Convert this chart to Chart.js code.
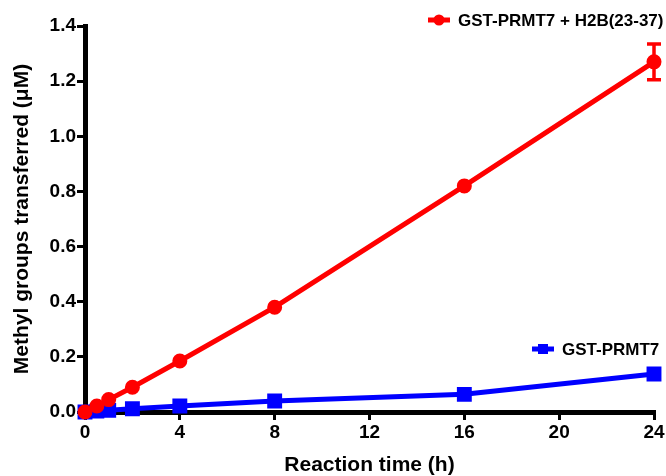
<!DOCTYPE html>
<html>
<head>
<meta charset="utf-8">
<script src="https://cdn.jsdelivr.net/npm/chart.js@4"></script>
<style>
html,body{margin:0;padding:0;background:#fff;}
#wrap{width:666px;height:476px;}
</style>
</head>
<body>
<div id="wrap"><canvas id="c" width="666" height="476"></canvas></div>
<script>
const times = [0, 0.5, 1, 2, 4, 8, 16, 24];
const redValues = [0, 0.022, 0.045, 0.09, 0.185, 0.38, 0.82, 1.27];
const redErrors = [0, 0, 0, 0, 0, 0, 0, 0.065];
const blueValues = [0, 0.003, 0.006, 0.012, 0.022, 0.04, 0.064, 0.138];
const xTicks = [0, 4, 8, 12, 16, 20, 24];
const yTicks = [0, 0.2, 0.4, 0.6, 0.8, 1.0, 1.2, 1.4];
const redLabel = 'GST-PRMT7 + H2B(23-37)';
const blueLabel = 'GST-PRMT7';
const xTitle = 'Reaction time (h)';
const yTitle = 'Methyl groups transferred (\u03bcM)';

const FONT = "'Liberation Sans', Arial, sans-serif";
const RED = '#ff0000';
const BLUE = '#0000ff';

const errorBars = {
  id: 'errorBars',
  afterDatasetsDraw(chart) {
    const {ctx, scales: {x, y}} = chart;
    ctx.save();
    ctx.strokeStyle = RED;
    ctx.lineWidth = 3.5;
    times.forEach((t, i) => {
      const e = redErrors[i];
      if (!e) return;
      const px = x.getPixelForValue(t);
      const top = y.getPixelForValue(redValues[i] + e);
      const bot = y.getPixelForValue(redValues[i] - e);
      ctx.beginPath();
      ctx.moveTo(px, top); ctx.lineTo(px, bot);
      ctx.moveTo(px - 7, top); ctx.lineTo(px + 7, top);
      ctx.moveTo(px - 7, bot); ctx.lineTo(px + 7, bot);
      ctx.stroke();
    });
    ctx.restore();
  }
};

const legends = {
  id: 'legends',
  afterDraw(chart) {
    const ctx = chart.ctx;
    const items = [
      {label: redLabel, color: RED, shape: 'circle', x: 428, y: 20},
      {label: blueLabel, color: BLUE, shape: 'rect', x: 532, y: 349}
    ];
    ctx.save();
    items.forEach(it => {
      ctx.strokeStyle = it.color;
      ctx.fillStyle = it.color;
      ctx.lineWidth = 5;
      ctx.beginPath();
      ctx.moveTo(it.x, it.y); ctx.lineTo(it.x + 22, it.y);
      ctx.stroke();
      ctx.beginPath();
      if (it.shape === 'circle') {
        ctx.arc(it.x + 11, it.y, 5.5, 0, Math.PI * 2);
      } else {
        ctx.rect(it.x + 6, it.y - 5, 10, 10);
      }
      ctx.fill();
      ctx.fillStyle = '#000';
      ctx.font = 'bold 17px ' + FONT;
      ctx.textBaseline = 'middle';
      ctx.textAlign = 'left';
      ctx.fillText(it.label, it.x + 30, it.y + 1);
    });
    ctx.restore();
  }
};

const cfg = {
  type: 'line',
  data: {
    datasets: [
      {
        label: redLabel,
        data: times.map((t, i) => ({x: t, y: redValues[i]})),
        borderColor: RED,
        backgroundColor: RED,
        borderWidth: 5,
        pointStyle: 'circle',
        pointRadius: 5,
        pointHoverRadius: 5,
        tension: 0,
        clip: false
      },
      {
        label: blueLabel,
        data: times.map((t, i) => ({x: t, y: blueValues[i]})),
        borderColor: BLUE,
        backgroundColor: BLUE,
        borderWidth: 5,
        pointStyle: 'rect',
        pointRadius: 7,
        pointHoverRadius: 7,
        tension: 0,
        clip: false
      }
    ]
  },
  options: {
    responsive: false,
    animation: false,
    events: [],
    layout: {padding: {left: 0, right: 11, top: 26, bottom: 0}},
    plugins: {legend: {display: false}, tooltip: {enabled: false}},
    scales: {
      x: {
        type: 'linear',
        min: 0, max: 24,
        afterBuildTicks(s) { s.ticks = xTicks.map(v => ({value: v})); },
        afterFit(s) { s.height = 64; },
        border: {display: true, color: '#000', width: 5},
        grid: {drawOnChartArea: false, color: '#000', lineWidth: 3, tickLength: 8},
        ticks: {color: '#000', font: {family: FONT, size: 19, weight: 'bold'}, padding: 1, maxRotation: 0},
        title: {display: true, text: xTitle, color: '#000', font: {family: FONT, size: 21, weight: 'bold', lineHeight: 1}, padding: {top: 0, bottom: 0}}
      },
      y: {
        type: 'linear',
        min: 0, max: 1.4,
        afterBuildTicks(s) { s.ticks = yTicks.map(v => ({value: v})); },
        afterFit(s) { s.width = 85; },
        border: {display: true, color: '#000', width: 5},
        grid: {drawOnChartArea: false, color: '#000', lineWidth: 3, tickLength: 8},
        ticks: {color: '#000', font: {family: FONT, size: 19, weight: 'bold'}, padding: 1,
          callback: v => Number(v).toFixed(1)},
        title: {display: true, text: yTitle, color: '#000', font: {family: FONT, size: 21, weight: 'bold', lineHeight: 1}, padding: {top: 12, bottom: 0}}
      }
    }
  },
  plugins: [errorBars, legends]
};
new Chart(document.getElementById('c'), cfg);
</script>
</body>
</html>
